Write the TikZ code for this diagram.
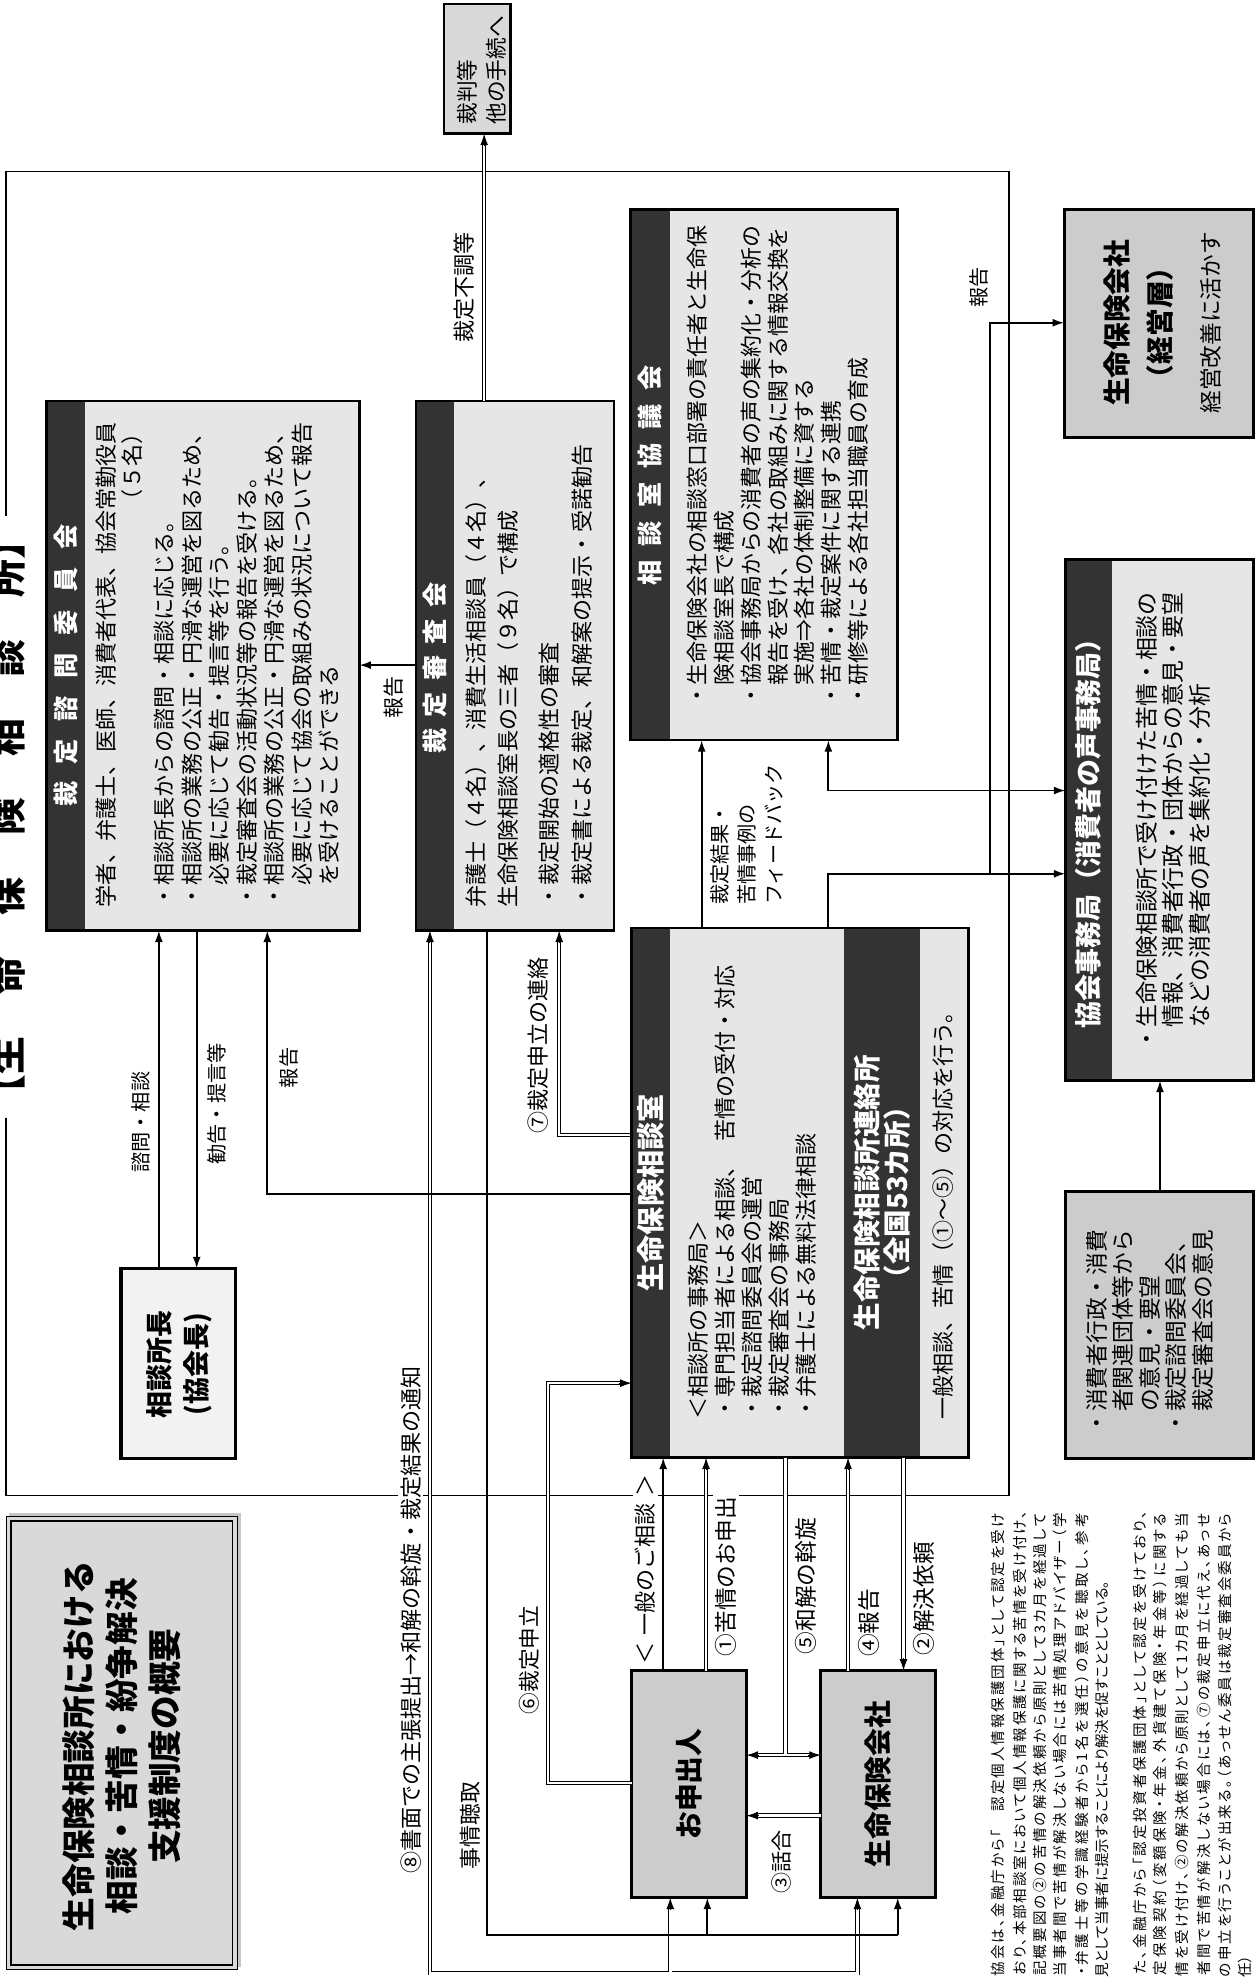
\documentclass[tikz,border=0pt]{standalone}
\usepackage{fontspec}
\setmainfont{Noto Sans CJK JP}
\newfontfamily\jpp{Noto Sans CJK JP}[RawFeature=+palt]
\usetikzlibrary{arrows.meta}
\definecolor{dk}{HTML}{333333}
\definecolor{lt}{HTML}{E6E6E6}
\definecolor{gr}{HTML}{CCCCCC}
\definecolor{grb}{HTML}{D9D9D9}
\definecolor{vl}{HTML}{F2F2F2}
\newcommand\fs[2]{\fontsize{#1}{#2}\selectfont}
\newcommand\TU[2]{\draw[tipst] (#1,#2+10) -- (#1,#2);}
\newcommand\TD[2]{\draw[tipst] (#1,#2-10) -- (#1,#2);}
\newcommand\TL[2]{\draw[tipst] (#1+10,#2) -- (#1,#2);}
\newcommand\TR[2]{\draw[tipst] (#1-10,#2) -- (#1,#2);}
\def\spreadit#1{\ifx\relax#1\unskip\else#1\hskip0pt plus1fil\relax\expandafter\spreadit\fi}
\newcommand\JL[2]{\hbox to #1{\spreadit#2\relax}}
\begin{document}
\begin{tikzpicture}[x=0.6pt,y=-0.6pt,
  bx/.style={draw=black,line width=1.3pt},
  ln/.style={line width=0.9pt},
  arr/.style={-{Latex[length=5.5pt,width=3.8pt]}},
  barr/.style={{Latex[length=5.5pt,width=3.8pt]}-{Latex[length=5.5pt,width=3.8pt]}},
  dbl/.style={draw=black,line width=0.45pt,double=white,double distance=1.2pt},
  tipst/.style={line width=0.5pt,-{Latex[length=5.5pt,width=3.8pt]}},
  lab/.style={rotate=90,inner sep=1.2pt,fill=white,font=\fs{10.5pt}{12pt}},
  hd/.style={rotate=90,inner sep=0pt,text=white,font=\bfseries\fs{12pt}{12pt}},
  boxn/.style={anchor=north west,inner sep=0pt,outer sep=0pt},
  body/.style={rotate=90,inner sep=0pt,align=left,anchor=north west,font=\fs{10.5pt}{13.1pt}},
  foot/.style={rotate=90,inner sep=0pt,anchor=east,font=\jpp\fs{6.9pt}{8pt}},
]
\useasboundingbox (0,0) rectangle (997,1568);
\fill[white] (0,0) rectangle (997,1568);

% ---------- outer frame ----------
\node[boxn,minimum width=477pt,minimum height=630pt] (frame) at (5,136) {};
\draw[line width=0.8pt] (5,136) rectangle (800,1186);
\node[rotate=90,fill=white,inner sep=3pt,font=\bfseries\fs{18pt}{18pt}] (bigtitle) at (6,648)
  {【生\hspace{1.1em}命\hspace{1.1em}保\hspace{1.1em}険\hspace{1.1em}相\hspace{1.1em}談\hspace{1.1em}所】};

% ---------- boxes ----------
\node[boxn,fill=grb,minimum width=31.8pt,minimum height=61.8pt] (saiban) at (352,3) {};
\draw[line width=1.1pt] (352,3) rectangle (405,106);
\node[body,font=\fs{10.3pt}{14pt}] (saibanT) at (362,99) {裁判等\\他の手続へ};

\node[boxn,fill=lt,minimum width=148.8pt,minimum height=252pt] (shimon) at (37,318) {};
\fill[dk] (37,318) rectangle (67.5,738);
\draw[bx] (37,318) rectangle (285,738);
\node[hd] (shimonH) at (52,528) {裁\hspace{0.7em}定\hspace{0.7em}諮\hspace{0.7em}問\hspace{0.7em}委\hspace{0.7em}員\hspace{0.7em}会};
\node[body] (shimonA) at (76,720) {学者、弁護士、医師、消費者代表、協会常勤役員};
\node[body,anchor=north east] (shimonB) at (96,335) {（５名）};
\node[body] (shimonC) at (122,720) {・相談所長からの諮問・相談に応じる。\\・相談所の業務の公正・円滑な運営を図るため、\\　必要に応じて勧告・提言等を行う。\\・裁定審査会の活動状況等の報告を受ける。\\・相談所の業務の公正・円滑な運営を図るため、\\　必要に応じて協会の取組みの状況について報告\\　を受けることができる};

\node[boxn,fill=lt,minimum width=94.2pt,minimum height=252pt] (shinsa) at (330,318) {};
\fill[dk] (330,318) rectangle (360,738);
\draw[bx] (330,318) rectangle (487,738);
\node[hd] (shinsaH) at (345,530) {裁\hspace{0.45em}定\hspace{0.45em}審\hspace{0.45em}査\hspace{0.45em}会};
\node[body,font=\fs{10.5pt}{15pt}] (shinsaA) at (369.3,720) {弁護士（４名）、消費生活相談員（４名）、\\生命保険相談室長の三者（９名）で構成};
\node[body,font=\fs{10.5pt}{15.4pt}] (shinsaB) at (427.3,720) {・裁定開始の適格性の審査\\・裁定書による裁定、和解案の提示・受諾勧告};

\node[boxn,fill=lt,minimum width=127.2pt,minimum height=252.6pt] (kyogi) at (500,166) {};
\fill[dk] (500,166) rectangle (531.5,587);
\draw[bx] (500,166) rectangle (712,587);
\node[hd] (kyogiH) at (515.75,377) {相\hspace{0.55em}談\hspace{0.55em}室\hspace{0.55em}協\hspace{0.55em}議\hspace{0.55em}会};
\node[body,font=\fs{10.4pt}{12.7pt}] (kyogiA) at (545,561) {・生命保険会社の相談窓口部署の責任者と生命保\\　険相談室長で構成\\・協会事務局からの消費者の声の集約化・分析の\\　報告を受け、各社の取組みに関する情報交換を\\　実施⇒各社の体制整備に資する\\・苦情・裁定案件に関する連携\\・研修等による各社担当職員の育成};

\node[boxn,fill=gr,minimum width=90pt,minimum height=108.6pt] (keiei) at (844,166) {};
\draw[bx] (844,166) rectangle (994,347);
\node[rotate=90,inner sep=0pt,font=\bfseries\fs{13.2pt}{14pt}] (keieiA) at (885.7,256) {生命保険会社};
\node[rotate=90,inner sep=0pt,font=\bfseries\fs{13.2pt}{14pt}] (keieiB) at (920,256) {（経営層）};
\node[rotate=90,inner sep=0pt,font=\fs{10.8pt}{12pt}] (keieiC) at (960,256) {経営改善に活かす};

\node[boxn,fill=lt,minimum width=89.4pt,minimum height=247.8pt] (jimu) at (845,444) {};
\fill[dk] (845,444) rectangle (882,857);
\draw[bx] (845,444) rectangle (994,857);
\node[hd,font=\bfseries\fs{12.8pt}{13pt}] (jimuH) at (863.5,656) {協会事務局（消費者の声事務局）};
\node[body,font=\fs{10.9pt}{12.6pt}] (jimuA) at (900.5,833.4) {・生命保険相談所で受け付けた苦情・相談の\\　情報、消費者行政・団体からの意見・要望\\　などの消費者の声を集約化・分析};

\node[boxn,fill=gr,minimum width=89.4pt,minimum height=127.2pt] (shohi) at (845,945) {};
\draw[bx] (845,945) rectangle (994,1157);
\node[body,font=\fs{10.8pt}{12.6pt}] (shohiA) at (861,1138) {・消費者行政・消費\\　者関連団体等から\\　の意見・要望\\・裁定諮問委員会、\\　裁定審査会の意見};

\node[boxn,fill=lt,minimum width=160.2pt,minimum height=252pt] (soda) at (501,736) {};
\fill[dk] (501,736) rectangle (531.4,1156);
\fill[dk] (669.4,736) rectangle (729.7,1156);
\draw[bx] (501,736) rectangle (768,1156);
\node[hd,font=\bfseries\fs{13.4pt}{14pt}] (sodaH) at (516,946) {生命保険相談室};
\node[body,font=\fs{10.5pt}{12.9pt}] (sodaA) at (545.2,1126) {＜相談所の事務局＞\\・専門担当者による相談、\hspace{0.6em}苦情の受付・対応\\・裁定諮問委員会の運営\\・裁定審査会の事務局\\・弁護士による無料法律相談};
\node[hd,align=center,font=\bfseries\fs{13.1pt}{14.4pt}] (sodaH2) at (699.5,946) {生命保険相談所連絡所\\（全国53カ所）};
\node[rotate=90,inner sep=0pt,anchor=west,font=\fs{10.5pt}{12pt}] (sodaB) at (748,1126) {一般相談、苦情（①～⑤）の対応を行う。};

\node[boxn,fill=vl,minimum width=54.6pt,minimum height=90.6pt] (shocho) at (96,1006) {};
\draw[line width=1.6pt] (96,1006) rectangle (187,1157);
\node[rotate=90,inner sep=0pt,font=\bfseries\fs{12.8pt}{14pt}] (shochoA) at (126.6,1082) {相談所長};
\node[rotate=90,inner sep=0pt,font=\bfseries\fs{12.8pt}{14pt}] (shochoB) at (156.7,1082) {(協会長)};

\fill[gray!45] (7,1200) rectangle (191,1560);
\node[boxn,fill=grb,minimum width=109.8pt,minimum height=215.4pt] (titlebox) at (5,1203) {};
\draw[line width=0.5pt] (5,1203) rectangle (188,1562);
\draw[line width=0.8pt] (8.5,1206.5) rectangle (184.5,1558.5);
\node[rotate=90,inner sep=0pt,align=center,font=\bfseries\fs{16pt}{20.6pt}] (titleT) at (96.5,1385) {生命保険相談所における\\相談・苦情・紛争解決\\支援制度の概要};

\node[boxn,fill=gr,minimum width=54.6pt,minimum height=108pt] (moshi) at (501,1325) {};
\draw[bx] (501,1325) rectangle (592,1505);
\node[rotate=90,inner sep=0pt,font=\bfseries\fs{13.2pt}{14pt}] (moshiT) at (546.5,1415) {お申出人};
\node[boxn,fill=gr,minimum width=54.6pt,minimum height=108pt] (seiho) at (651,1325) {};
\draw[bx] (651,1325) rectangle (742,1505);
\node[rotate=90,inner sep=0pt,font=\bfseries\fs{13.2pt}{14pt}] (seihoT) at (696.5,1415) {生命保険会社};

% ---------- double-line connectors ----------
\draw[dbl] (384,318) -- (384,114)
  (500,900) -- (443.5,900) -- (443.5,746)
  (501,1414) -- (434.7,1414) -- (434.7,1097) -- (493,1097)
  (341,746) -- (341,1565) -- (680,1565) -- (680,1513)
  (531.6,1565) -- (531.6,1513)
  (560,1325) -- (560,1164)
  (623,1156) -- (623,1392)
  (600,1392) -- (643,1392)
  (672.6,1325) -- (672.6,1164)
  (716.6,1156) -- (716.6,1317)
  (651,1440) -- (600,1440);
\TU{384}{106}
\TU{443.5}{738}
\TR{501}{1097}
\TU{341}{738}
\TU{680}{1505}
\TU{531.6}{1505}
\TU{560}{1156}
\TL{592}{1392}
\TR{651}{1392}
\TU{672.6}{1156}
\TD{716.6}{1325}
\TL{592}{1440}

% ---------- single-line connectors ----------
\draw[ln,arr] (330,527.5) -- (285,527.5);
\draw[ln,arr] (126,1006) -- (126,738);
\draw[ln,arr] (156,738) -- (156,1006);
\draw[ln,arr] (501,947) -- (212,947) -- (212,738);
\draw[ln] (386,738) -- (386,1535) -- (712,1535);
\draw[ln,arr] (712,1535) -- (712,1505);
\draw[ln,arr] (561,1535) -- (561,1505);
\draw[ln,arr] (526,1325) -- (526,1156);
\draw[ln,arr] (556.5,736) -- (556.5,587);
\draw[ln,barr] (657,587) -- (657,627) -- (845,627);
\draw[ln,arr] (657,736) -- (657,693) -- (845,693);
\draw[ln,arr] (785,693) -- (785,256) -- (844,256);
\draw[ln,arr] (920,945) -- (920,857);

% ---------- labels ----------
\node[lab] (l1) at (368,228) {裁定不調等};
\node[lab,font=\fs{10pt}{12pt}] (l2) at (312,553) {報告};
\node[lab,font=\fs{9.6pt}{12pt}] (l3) at (112,890) {諮問・相談};
\node[lab,font=\fs{9.6pt}{12pt}] (l4) at (172,875.5) {勧告・提言等};
\node[lab,font=\fs{9.6pt}{12pt}] (l5) at (229.5,847) {報告};
\node[lab] (l6) at (427,829) {⑦裁定申立の連絡};
\node[lab] (l7) at (325.7,1285) {⑧書面での主張提出→和解の斡旋・裁定結果の通知};
\node[lab,font=\fs{10.4pt}{12pt}] (l8) at (372.6,1448) {事情聴取};
\node[lab,font=\fs{10.3pt}{12pt}] (l9) at (419.5,1316.7) {⑥裁定申立};
\node[lab] (l10) at (512,1245) {＜\hspace{0.3em}一般のご相談\hspace{0.3em}＞};
\node[lab,font=\fs{10.8pt}{12pt}] (l11) at (576,1250.5) {①苦情のお申出};
\node[lab,font=\fs{10.8pt}{12pt}] (l12) at (639,1258) {⑤和解の斡旋};
\node[lab,font=\fs{10.8pt}{12pt}] (l13) at (689,1287) {④報告};
\node[lab,font=\fs{10.8pt}{12pt}] (l14) at (733,1268) {②解決依頼};
\node[lab,font=\fs{10pt}{12pt}] (l15) at (619.8,1476.8) {③話合};
\node[body,font=\fs{9.6pt}{12.8pt}] (l16) at (563,718) {裁定結果・\\苦情事例の\\フィードバック};
\node[lab,font=\fs{9.6pt}{12pt}] (l17) at (776,228) {報告};

% ---------- footnote (justified lines, cut at the bottom edge) ----------
\node[foot] (f1) at (791.9,1200) {\JL{228pt}{当協会は、金融庁から「　認定個人情報保護団体」として認定を受け}};
\node[foot] (f2) at (809,1198) {\JL{228pt}{ており、本部相談室において個人情報保護に関する苦情を受け付け、}};
\node[foot] (f3) at (825,1200) {\JL{228pt}{上記概要図の②の苦情の解決依頼から原則として3カ月を経過して}};
\node[foot] (f4) at (840.7,1200) {\JL{228pt}{も当事者間で苦情が解決しない場合には苦情処理アドバイザー（学}};
\node[foot] (f5) at (858,1200) {\JL{228pt}{者・弁護士等の学識経験者から1名を選任）の意見を聴取し、参考}};
\node[foot] (f6) at (873.9,1316.6) {\JL{158pt}{意見として当事者に提示することにより解決を促すこととしている。}};
\node[foot] (f7) at (904.2,1198) {\JL{228pt}{また、金融庁から「認定投資者保護団体」として認定を受けており、}};
\node[foot] (f8) at (920,1200) {\JL{228pt}{特定保険契約（変額保険・年金、外貨建て保険・年金等）に関する}};
\node[foot] (f9) at (937.5,1200) {\JL{228pt}{苦情を受け付け、②の解決依頼から原則として1カ月を経過しても当}};
\node[foot] (f10) at (954.6,1200) {\JL{228pt}{事者間で苦情が解決しない場合には、⑦の裁定申立に代え、あっせ}};
\node[foot] (f11) at (971.6,1200) {\JL{228pt}{んの申立を行うことが出来る。（あっせん委員は裁定審査会委員から}};
\node[foot,anchor=west] (f12) at (987.5,1580) {選任）};
\end{tikzpicture}
\end{document}
